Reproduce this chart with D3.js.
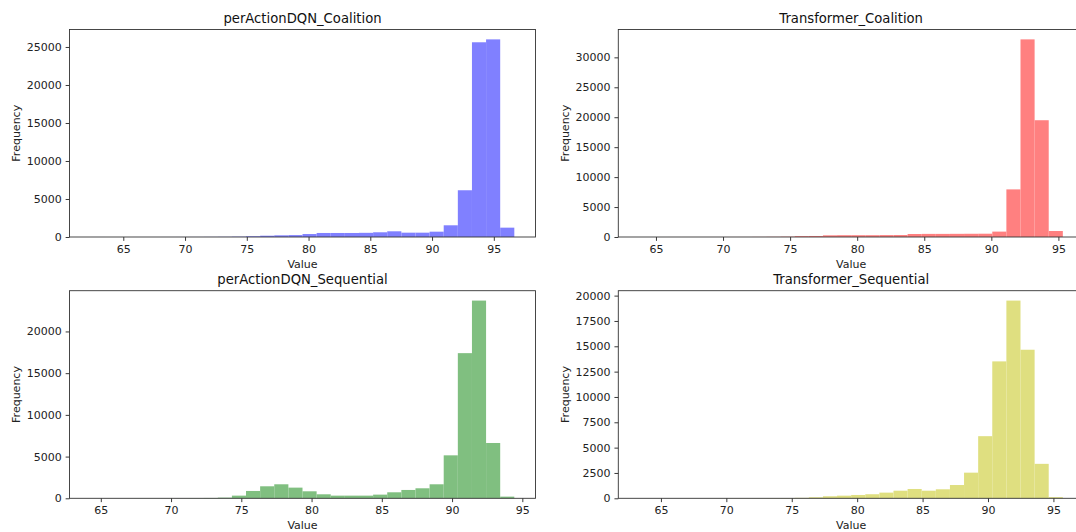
<!DOCTYPE html>
<html>
<head>
<meta charset="utf-8">
<script src="https://cdn.jsdelivr.net/npm/d3@7"></script>
<style>
  html, body { margin: 0; padding: 0; background: #fff; }
  svg { display: block; font-family: "DejaVu Sans", sans-serif; }
</style>
</head>
<body>
<svg id="chart" width="1076" height="532"></svg>
<script>
// ---- data ----
const panelTitles = ["perActionDQN_Coalition", "Transformer_Coalition", "perActionDQN_Sequential", "Transformer_Sequential"];

// histogram value ranges (min, max of data; 30 equal bins)
const dqnCoalitionRange = [62.36, 96.66];
const transCoalitionRange = [63.77, 95.33];
const dqnSequentialRange = [64.28, 94.43];
const transSequentialRange = [63.36, 95.72];

// bin counts (30 bins each)
const dqnCoalitionCounts = [2, 0, 1, 3, 2, 5, 6, 10, 15, 25, 45,
  100, 170, 220, 250, 390, 530, 530, 530, 550, 620, 750, 570, 570, 700, 1540, 6150, 25620, 26000, 1230];
const transCoalitionCounts = [1, 0, 2, 3, 4, 5, 8, 12, 20, 35, 60,
  150, 170, 280, 300, 300, 300, 320, 330, 500, 520, 520, 530, 540, 550, 900, 7950, 33000, 19500, 1000];
const dqnSequentialCounts = [2, 1, 3, 4, 6, 10, 15, 25, 40,
  80, 320, 880, 1440, 1680, 1280, 840, 480, 320, 320, 320, 440, 720, 1000, 1200, 1680, 5150, 17400, 23700, 6630, 200];
const transSequentialCounts = [1, 0, 2, 2, 3, 5, 8, 10, 15, 20, 30, 45,
  100, 200, 260, 330, 400, 560, 750, 920, 750, 890, 1310, 2530, 6130, 13510, 19510, 14660, 3400, 110];

// tick labels
const xTickValues = [65, 70, 75, 80, 85, 90, 95];
const yTicksDqnCoalition = [0, 5000, 10000, 15000, 20000, 25000];
const yTicksTransCoalition = [0, 5000, 10000, 15000, 20000, 25000, 30000];
const yTicksDqnSequential = [0, 5000, 10000, 15000, 20000];
const yTicksTransSequential = [0, 2500, 5000, 7500, 10000, 12500, 15000, 17500, 20000];

const xLabelText = "Value";
const yLabelText = "Frequency";

// ---- layout / style ----
const panels = [
  { title: panelTitles[0], range: dqnCoalitionRange, counts: dqnCoalitionCounts, yTicks: yTicksDqnCoalition,
    color: "#8080ff", x0: 69.5, x1: 535.5, y0: 29.5, y1: 237 },
  { title: panelTitles[1], range: transCoalitionRange, counts: transCoalitionCounts, yTicks: yTicksTransCoalition,
    color: "#ff8080", x0: 618.3, x1: 1084, y0: 29.5, y1: 237 },
  { title: panelTitles[2], range: dqnSequentialRange, counts: dqnSequentialCounts, yTicks: yTicksDqnSequential,
    color: "#80bf80", x0: 69.5, x1: 535.5, y0: 290.7, y1: 498.3 },
  { title: panelTitles[3], range: transSequentialRange, counts: transSequentialCounts, yTicks: yTicksTransSequential,
    color: "#dfdf80", x0: 618.3, x1: 1084, y0: 290.7, y1: 498.3 }
];

const svg = d3.select("#chart");
svg.append("rect").attr("width", 1076).attr("height", 532).attr("fill", "#fff");

panels.forEach(p => {
  const nBins = p.counts.length;
  const [lo, hi] = p.range;
  const w = (hi - lo) / nBins;
  const span = hi - lo;
  const x = d3.scaleLinear().domain([lo - 0.05 * span, hi + 0.05 * span]).range([p.x0, p.x1]);
  const ymax = d3.max(p.counts) * 1.05;
  const y = d3.scaleLinear().domain([0, ymax]).range([p.y1, p.y0]);

  const g = svg.append("g");
  const bins = p.counts.map((c, i) => ({ a: lo + i * w, b: lo + (i + 1) * w, c }));

  g.append("g").selectAll("rect").data(bins).join("rect")
    .attr("x", d => x(d.a))
    .attr("width", d => Math.max(0, x(d.b) - x(d.a)))
    .attr("y", d => y(d.c))
    .attr("height", d => y(0) - y(d.c))
    .attr("fill", p.color);

  // axes
  const xAxis = d3.axisBottom(x).tickValues(xTickValues).tickSize(3.85).tickPadding(3.85).tickFormat(d3.format("d"));
  const gx = g.append("g").attr("transform", `translate(0,${p.y1})`).call(xAxis);
  gx.select(".domain").remove();
  const yAxis = d3.axisLeft(y).tickValues(p.yTicks).tickSize(3.85).tickPadding(3.85).tickFormat(d3.format("d"));
  const gy = g.append("g").attr("transform", `translate(${p.x0},0)`).call(yAxis);
  gy.select(".domain").remove();
  [gx, gy].forEach(a => {
    a.selectAll("text").attr("font-size", 11).attr("fill", "#222").attr("font-family", "DejaVu Sans");
    a.selectAll("line").attr("stroke", "#222").attr("stroke-width", 0.9);
  });

  // frame
  g.append("rect")
    .attr("x", p.x0).attr("y", p.y0)
    .attr("width", p.x1 - p.x0).attr("height", p.y1 - p.y0)
    .attr("fill", "none").attr("stroke", "#333").attr("stroke-width", 0.9);

  // title
  g.append("text")
    .attr("x", (p.x0 + p.x1) / 2).attr("y", p.y0 - 7)
    .attr("text-anchor", "middle").attr("font-size", 13.2).attr("fill", "#111")
    .text(p.title);

  // x label
  g.append("text")
    .attr("x", (p.x0 + p.x1) / 2).attr("y", p.y1 + 31)
    .attr("text-anchor", "middle").attr("font-size", 11).attr("fill", "#222")
    .text(xLabelText);

  // y label
  g.append("text")
    .attr("transform", `translate(${p.x0 - 49.5},${(p.y0 + p.y1) / 2}) rotate(-90)`)
    .attr("text-anchor", "middle").attr("font-size", 11).attr("fill", "#222")
    .text(yLabelText);
});
</script>
</body>
</html>
